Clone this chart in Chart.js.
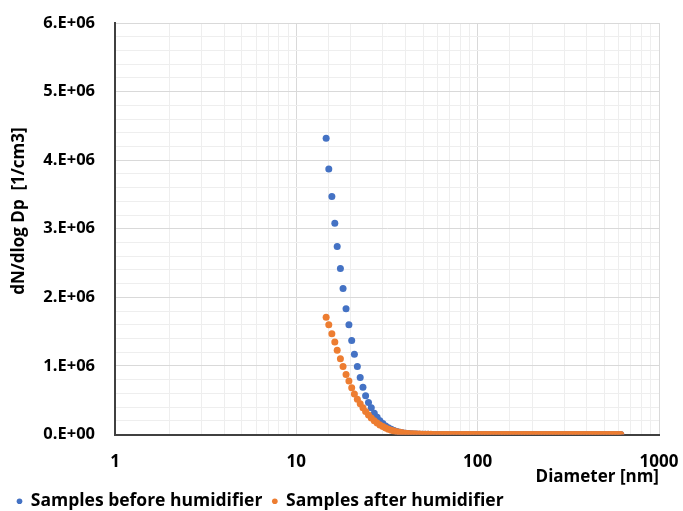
<!DOCTYPE html>
<html>
<head>
<meta charset="utf-8">
<script src="https://cdn.jsdelivr.net/npm/chart.js@4.4.1/dist/chart.umd.min.js"></script>
<style>
  html, body { margin: 0; padding: 0; background: #fff; }
  #wrap { width: 683px; height: 511px; }
</style>
</head>
<body>
<div id="wrap"><canvas id="chart" width="683" height="511"></canvas></div>
<script>
// particle diameters [nm]
const diameters = [
  14.6, 15.1, 15.7, 16.3, 16.8, 17.5, 18.1, 18.8, 19.5, 20.2,
  20.9, 21.7, 22.5, 23.3, 24.1, 25.0, 25.9, 26.9, 27.9, 28.9,
  30.0, 31.1, 32.2, 33.4, 34.6, 35.9, 37.2, 38.5, 40.0, 41.4,
  42.9, 44.5, 46.1, 47.8, 49.6, 51.4, 53.3, 55.2, 57.3, 59.4,
  61.5, 63.8, 66.1, 68.5, 71.0, 73.7, 76.4, 79.1, 82.0, 85.1,
  88.2, 91.4, 94.7, 98.2, 101.8, 105.5, 109.4, 113.4, 117.6, 121.9,
  126.3, 131.0, 135.8, 140.7, 145.9, 151.2, 156.8, 162.5, 168.5, 174.7,
  181.1, 187.7, 194.6, 201.7, 209.1, 216.7, 224.7, 232.9, 241.4, 250.3,
  259.5, 269.0, 278.8, 289.0, 299.6, 310.6, 322.0, 333.8, 346.0, 358.7,
  371.8, 385.4, 399.5, 414.2, 429.4, 445.1, 461.4, 478.3, 495.8, 514.0,
  532.8, 552.3, 572.5, 593.5, 615.3
];

// dN/dlogDp [1/cm3]
const before = [
  4320000, 3870000, 3470000, 3080000, 2740000, 2420000, 2130000, 1835000, 1600000, 1370000,
  1170000, 990000, 830000, 690000, 565000, 467000, 390000, 310000, 250000, 200000,
  160000, 125000, 98000, 76000, 59000, 45000, 34000, 26000, 20000, 15000,
  11000, 8500, 6500, 5000, 3800, 2900, 2200, 1700, 1300, 1000,
  800, 650, 530, 430, 350, 290, 240, 200, 170, 145,
  125, 110, 95, 85, 75, 68, 62, 56, 51, 47,
  43, 40, 37, 34, 31, 29, 27, 25, 23, 21,
  20, 18, 17, 16, 15, 14, 13, 12, 11, 10,
  9, 9, 8, 8, 7, 7, 6, 6, 5, 5,
  5, 4, 4, 4, 3, 3, 3, 3, 2, 2,
  2, 2, 1, 1, 1
];

const after = [
  1710000, 1600000, 1470000, 1350000, 1230000, 1105000, 990000, 876000, 780000, 680000,
  590000, 515000, 450000, 390000, 335000, 285000, 240000, 200000, 168000, 140000,
  115000, 94000, 77000, 62000, 50000, 40000, 32000, 25000, 20000, 15500,
  12000, 9300, 7200, 5600, 4300, 3300, 2600, 2000, 1600, 1250,
  980, 780, 620, 500, 410, 340, 280, 235, 200, 170,
  145, 125, 110, 97, 86, 77, 69, 62, 56, 51,
  47, 43, 39, 36, 33, 30, 28, 26, 24, 22,
  20, 19, 17, 16, 15, 14, 13, 12, 11, 10,
  10, 9, 9, 8, 8, 7, 7, 6, 6, 5,
  5, 5, 4, 4, 4, 3, 3, 3, 3, 2,
  2, 2, 2, 1, 1
];

const xLabels = [1, 10, 100, 1000];
const seriesNames = ['Samples before humidifier', 'Samples after humidifier'];
const seriesColors = ['#4472C4', '#ED7D31'];

const FONT = "'Open Sans', 'Liberation Sans', sans-serif";
const MAJOR_GRID = '#d9d9d9';
const MINOR_GRID = '#eeeeee';

const toPoints = ys => diameters.map((d, i) => ({ x: d, y: ys[i] }));

const isDecade = v => xLabels.includes(Math.round(v * 1000) / 1000);
const isMillion = v => Math.abs(v / 1e6 - Math.round(v / 1e6)) < 1e-6;

new Chart(document.getElementById('chart'), {
    type: 'scatter',
    data: {
        datasets: [
            {
                label: seriesNames[0],
                data: toPoints(before),
                backgroundColor: seriesColors[0],
                borderColor: seriesColors[0],
                pointRadius: 3.5,
                pointBorderWidth: 0,
                order: 1,
            },
            {
                label: seriesNames[1],
                data: toPoints(after),
                backgroundColor: seriesColors[1],
                borderColor: seriesColors[1],
                pointRadius: 3.5,
                pointBorderWidth: 0,
                order: 0,
            },
        ]
    },
    options: {
        responsive: false,
        animation: false,
        // negative bottom padding lets the legend sit a little lower, like the original
        layout: { padding: { left: 7, right: 24, top: 23, bottom: -9 } },
        plugins: {
            tooltip: { enabled: false },
            legend: {
                position: 'bottom',
                align: 'start',
                labels: {
                    usePointStyle: true,
                    pointStyle: 'circle',
                    boxWidth: 5,
                    boxHeight: 4,
                    padding: 10,
                    color: '#000',
                    font: { family: FONT, size: 17.5, weight: 'bold' },
                    sort: (a, b) => a.datasetIndex - b.datasetIndex,
                }
            }
        },
        scales: {
            x: {
                type: 'logarithmic',
                min: 1,
                max: 1000,
                afterFit: s => {
                    s.height = 48;
                    s.paddingLeft = 0;
                    s.paddingRight = 0;
                },
                border: { color: '#404040', width: 2 },
                grid: {
                    drawTicks: false,
                    color: ctx => (ctx.tick && isDecade(ctx.tick.value)) ? MAJOR_GRID : MINOR_GRID,
                },
                ticks: {
                    autoSkip: false,
                    maxRotation: 0,
                    padding: 17,
                    color: '#000',
                    font: { family: FONT, size: 17, weight: 'bold' },
                    callback: v => isDecade(v) ? String(Math.round(v)) : '',
                },
                title: {
                    display: true,
                    text: 'Diameter [nm]',
                    align: 'end',
                    color: '#000',
                    padding: { top: 0, bottom: -5 },
                    font: { family: FONT, size: 17, weight: 'bold' },
                }
            },
            y: {
                min: 0,
                max: 6000000,
                afterFit: s => {
                    s.width = 108;
                    s.paddingTop = 0;
                    s.paddingBottom = 0;
                },
                border: { color: '#404040', width: 2 },
                grid: {
                    drawTicks: false,
                    color: ctx => (ctx.tick && isMillion(ctx.tick.value)) ? MAJOR_GRID : MINOR_GRID,
                },
                ticks: {
                    stepSize: 200000,
                    maxTicksLimit: 40,
                    autoSkip: false,
                    padding: 20,
                    color: '#000',
                    font: { family: FONT, size: 16.5, weight: 'bold' },
                    callback: v => {
                        if (!isMillion(v)) return '';
                        const m = Math.round(v / 1e6);
                        return m === 0 ? '0.E+00' : m + '.E+06';
                    },
                },
                title: {
                    display: true,
                    text: '        dN/dlog Dp  [1/cm3]',
                    color: '#000',
                    padding: { top: 2, bottom: 0 },
                    font: { family: FONT, size: 17, weight: 'bold' },
                }
            }
        }
    }
});
</script>
</body>
</html>
